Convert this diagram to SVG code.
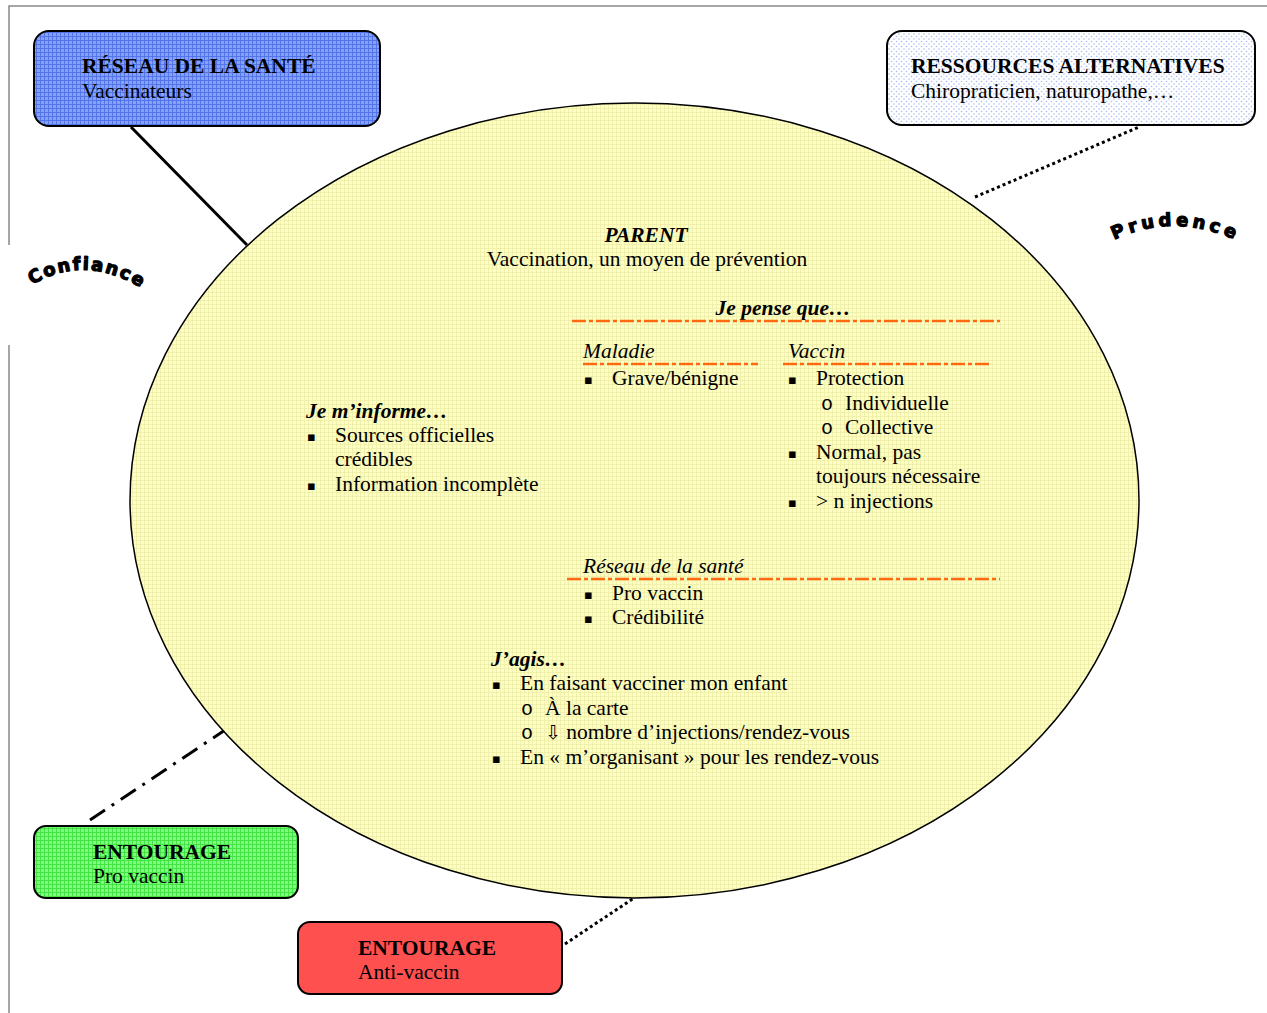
<svg xmlns="http://www.w3.org/2000/svg" width="1267" height="1013" viewBox="0 0 1267 1013">
<defs>
<pattern id="gridY" width="4" height="4" patternUnits="userSpaceOnUse"><rect width="4" height="4" fill="#ffffc4"/><path d="M0 0.5H4M0.5 0V4" stroke="#eeeea8" stroke-width="0.8"/></pattern>
<pattern id="gridB" width="4" height="4" patternUnits="userSpaceOnUse"><rect width="4" height="4" fill="#86a2f8"/><path d="M0 0.5H4M0.5 0V4" stroke="#4f70e8" stroke-width="0.9"/></pattern>
<pattern id="gridG" width="4" height="4" patternUnits="userSpaceOnUse"><rect width="4" height="4" fill="#7cff7c"/><path d="M0 0.5H4M0.5 0V4" stroke="#3ee03e" stroke-width="0.9"/></pattern>
<pattern id="dots" width="5" height="5" patternUnits="userSpaceOnUse"><rect width="5" height="5" fill="#ffffff"/><circle cx="1.5" cy="1.5" r="0.8" fill="#a9bdf5"/><circle cx="4" cy="4" r="0.8" fill="#a9bdf5"/></pattern>
<path id="arcC" d="M32,285 Q86,252 146,291"/>
<path id="arcP" d="M1114,240 Q1176,210 1244,244"/>
</defs>
<style>
.box{stroke:#000;stroke-width:2}
.t{font-family:"Liberation Serif","Times New Roman",serif;font-size:21.5px;fill:#000}
.b{font-weight:bold}
.i{font-style:italic}
.h{font-family:"Liberation Serif","Times New Roman",serif;font-size:21.5px;fill:#000}
.bul{font-family:"DejaVu Sans",sans-serif;font-size:13px;fill:#000}
.o{font-family:"Liberation Mono","Courier New",monospace;font-size:20px;fill:#000}
.or{stroke:#ff6a10;stroke-width:2.5;stroke-dasharray:14 3 4 3;fill:none}
.arc{font-family:"DejaVu Sans",sans-serif;font-weight:bold;font-size:18px;fill:#000;stroke:#000;stroke-width:1.2;stroke-linejoin:round}
</style>
<g id="page" stroke="#888" stroke-width="1.5" fill="none"><path d="M9,245 V6 H1267"/><path d="M9,345 V1013"/></g>
<g id="connectors" fill="none" stroke="#000" stroke-width="3">
<line x1="131" y1="127" x2="247" y2="245"/>
<line x1="975" y1="197" x2="1139" y2="127" stroke-dasharray="3 3"/>
<line x1="90" y1="820" x2="225" y2="730" stroke-dasharray="18 8 3 8"/>
<line x1="565" y1="944" x2="634" y2="898" stroke-dasharray="3 3"/>
</g>
<g id="parent">
<ellipse cx="634.5" cy="500.5" rx="504.5" ry="397.5" fill="url(#gridY)" stroke="#000" stroke-width="1.5"/>
<text class="t b i" x="646" y="242" text-anchor="middle">PARENT</text>
<text class="t" x="647" y="266" text-anchor="middle">Vaccination, un moyen de prévention</text>
<text class="t b i" x="783" y="315" text-anchor="middle">Je pense que…</text>
<line class="or" x1="572" y1="321" x2="1000" y2="321"/>
<text class="t i" x="583" y="358">Maladie</text>
<line class="or" x1="583" y1="364" x2="758" y2="364"/>
<text class="bul" x="584" y="384">▪</text><text class="t" x="612" y="385">Grave/bénigne</text>
<text class="t i" x="788" y="358">Vaccin</text>
<line class="or" x1="783" y1="364" x2="990" y2="364"/>
<text class="bul" x="788" y="384">▪</text><text class="t" x="816" y="385">Protection</text>
<text class="o" x="821" y="410">o</text><text class="t" x="845" y="410">Individuelle</text>
<text class="o" x="821" y="434">o</text><text class="t" x="845" y="434">Collective</text>
<text class="bul" x="788" y="458">▪</text><text class="t" x="816" y="459">Normal, pas</text>
<text class="t" x="816" y="483">toujours nécessaire</text>
<text class="bul" x="788" y="507">▪</text><text class="t" x="816" y="508">&gt; n injections</text>
<text class="t b i" x="306" y="418">Je m’informe…</text>
<text class="bul" x="307" y="441">▪</text><text class="t" x="335" y="442">Sources officielles</text>
<text class="t" x="335" y="466">crédibles</text>
<text class="bul" x="307" y="490">▪</text><text class="t" x="335" y="491">Information incomplète</text>
<text class="t i" x="583" y="573">Réseau de la santé</text>
<line class="or" x1="567" y1="579" x2="1000" y2="579"/>
<text class="bul" x="584" y="599">▪</text><text class="t" x="612" y="600">Pro vaccin</text>
<text class="bul" x="584" y="623">▪</text><text class="t" x="612" y="624">Crédibilité</text>
<text class="t b i" x="491" y="666">J’agis…</text>
<text class="bul" x="492" y="689">▪</text><text class="t" x="520" y="690">En faisant vacciner mon enfant</text>
<text class="o" x="521" y="715">o</text><text class="t" x="545" y="715">À la carte</text>
<text class="o" x="521" y="739">o</text><text class="t" x="545" y="739"><tspan font-family="DejaVu Sans" font-size="19">⇩</tspan> nombre d’injections/rendez-vous</text>
<text class="bul" x="492" y="763">▪</text><text class="t" x="520" y="764">En « m’organisant » pour les rendez-vous</text>
</g>
<g id="reseau">
<rect class="box" x="34" y="31" width="346" height="95" rx="15" fill="url(#gridB)"/>
<text class="h b" x="82" y="73">RÉSEAU DE LA SANTÉ</text>
<text class="h" x="82" y="98">Vaccinateurs</text>
</g>
<g id="ressources">
<rect class="box" x="887" y="31" width="368" height="94" rx="15" fill="url(#dots)"/>
<text class="h b" x="911" y="73">RESSOURCES ALTERNATIVES</text>
<text class="h" x="911" y="98">Chiropraticien, naturopathe,…</text>
</g>
<g id="entourage-pro">
<rect class="box" x="34" y="826" width="264" height="72" rx="12" fill="url(#gridG)"/>
<text class="h b" x="93" y="859">ENTOURAGE</text>
<text class="h" x="93" y="883">Pro vaccin</text>
</g>
<g id="entourage-anti">
<rect class="box" x="298" y="922" width="264" height="72" rx="12" fill="#ff5050"/>
<text class="h b" x="358" y="955">ENTOURAGE</text>
<text class="h" x="358" y="979">Anti-vaccin</text>
</g>
<g id="labels">
<text class="arc" letter-spacing="1.8"><textPath href="#arcC">Confiance</textPath></text>
<text class="arc" letter-spacing="4"><textPath href="#arcP">Prudence</textPath></text>
</g>
</svg>
